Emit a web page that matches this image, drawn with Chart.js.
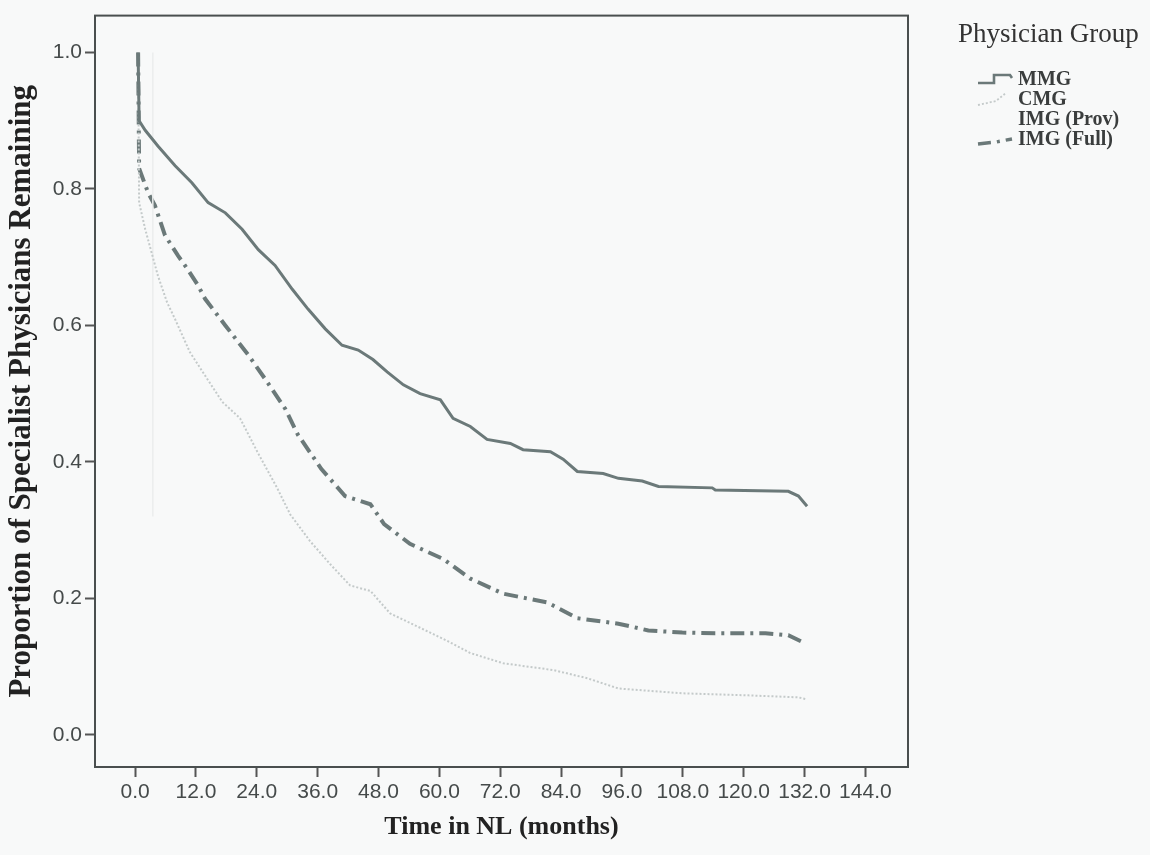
<!DOCTYPE html>
<html>
<head>
<meta charset="utf-8">
<script src="https://cdn.jsdelivr.net/npm/chart.js@4.4.1/dist/chart.umd.min.js"></script>
<style>
  html, body { margin: 0; padding: 0; background: #f8f9f9; }
  #wrap { position: relative; width: 1150px; height: 855px; }
  #legend { position: absolute; left: 958px; top: 18px; font-family: "Liberation Serif", "Times New Roman", serif; color: #333; }
  #legend .ttl { font-size: 27px; margin-bottom: 19px; }
  #legend .row { display: flex; align-items: center; height: 20px; font-size: 20px; font-weight: bold; color: #3a3d3d; }
  #legend svg { width: 40px; height: 18px; margin-left: 18px; margin-right: 2px; }
</style>
</head>
<body>
<div id="wrap">
  <canvas id="km" width="1150" height="855"></canvas>
  <div id="legend"></div>
</div>
<script>
// ---- data (months, proportion remaining) ----
const groups = ['MMG', 'CMG', 'IMG (Prov)', 'IMG (Full)'];

const mmgTime = [0.6, 0.8, 2.0, 4.5, 7.9, 11.2, 14.4, 17.8, 21.1, 24.3, 27.6, 31.0, 34.1, 37.5, 40.8, 44.0, 46.9,
  49.7, 52.9, 56.2, 60.2, 62.7, 66.1, 69.4, 74.0, 76.5, 81.9, 84.4, 87.2, 92.3, 95.3, 100.0, 103.2, 113.8, 114.4,
  128.8, 130.8, 132.5];
const mmgSurv = [1.0, 0.90, 0.886, 0.863, 0.834, 0.809, 0.780, 0.765, 0.741, 0.711, 0.688, 0.653, 0.624, 0.595, 0.571, 0.564, 0.550,
  0.532, 0.513, 0.500, 0.491, 0.464, 0.452, 0.433, 0.427, 0.418, 0.415, 0.404, 0.386, 0.383, 0.376, 0.372, 0.364, 0.362, 0.359,
  0.357, 0.350, 0.335];

const cmgTime = [0.6, 0.8, 2.0, 4.5, 6.3, 7.9, 10.8, 14.2, 17.2, 20.7, 24.1, 28.0, 30.6, 34.5, 38.5, 42.4, 46.4,
  50.3, 56.2, 61.5, 66.1, 72.6, 82.5, 89.2, 95.3, 107.9, 120.9, 130.8, 132.5];
const cmgSurv = [1.0, 0.78, 0.741, 0.673, 0.634, 0.609, 0.561, 0.522, 0.488, 0.464, 0.415, 0.362, 0.323, 0.284, 0.250, 0.219, 0.211,
  0.178, 0.157, 0.138, 0.120, 0.105, 0.095, 0.083, 0.068, 0.061, 0.058, 0.055, 0.052];

const provTime = [3.5, 3.5];
const provSurv = [1.0, 0.32];

const fullTime = [0.6, 0.8, 2.6, 3.9, 5.9, 8.5, 10.3, 12.4, 13.8, 17.8, 22.3, 25.6, 29.6, 32.1, 36.7, 41.4, 46.4,
  49.1, 54.2, 60.7, 66.1, 72.6, 81.3, 87.2, 95.3, 101.2, 107.9, 114.4, 124.3, 128.8, 132.2];
const fullSurv = [1.0, 0.83, 0.794, 0.776, 0.732, 0.702, 0.683, 0.659, 0.639, 0.600, 0.557, 0.522, 0.478, 0.440, 0.390, 0.350, 0.338,
  0.309, 0.280, 0.258, 0.229, 0.207, 0.194, 0.171, 0.163, 0.153, 0.150, 0.149, 0.149, 0.146, 0.134];

const xTicks = [0, 12, 24, 36, 48, 60, 72, 84, 96, 108, 120, 132, 144];
const yTicks = [0, 0.2, 0.4, 0.6, 0.8, 1.0];

const pts = (t, s) => t.map((v, i) => ({ x: v, y: s[i] }));

const styles = [
  { color: '#6b7979', width: 3, dash: [] },
  { color: '#c4caca', width: 2, dash: [2, 2] },
  { color: '#ebeded', width: 1.5, dash: [] },
  { color: '#6b7979', width: 4, dash: [14, 6, 3, 6] }
];
const series = [pts(mmgTime, mmgSurv), pts(cmgTime, cmgSurv), pts(provTime, provSurv), pts(fullTime, fullSurv)];

const frame = {
  id: 'frame',
  afterDatasetsDraw(chart) {
    const a = chart.chartArea, ctx = chart.ctx;
    ctx.save();
    ctx.strokeStyle = '#4a4f4f';
    ctx.lineWidth = 2;
    ctx.strokeRect(a.left, a.top, a.right - a.left, a.bottom - a.top);
    ctx.restore();
  }
};

const tickFont = { family: '"Liberation Sans", Arial, sans-serif', size: 21 };
const titleFont = { family: '"Liberation Serif", "Times New Roman", serif', weight: 'bold' };

new Chart(document.getElementById('km'), {
  type: 'line',
  data: {
    datasets: groups.map((g, i) => ({
      label: g,
      data: series[i],
      borderColor: styles[i].color,
      borderWidth: styles[i].width,
      borderDash: styles[i].dash,
      pointRadius: 0,
      fill: false,
      tension: 0
    }))
  },
  options: {
    responsive: false,
    animation: false,
    layout: { padding: { left: 0, top: 12, right: 242, bottom: 0 } },
    plugins: { legend: { display: false }, tooltip: { enabled: false } },
    scales: {
      x: {
        type: 'linear',
        min: -7.9, max: 152.4,
        afterBuildTicks: s => { s.ticks = xTicks.map(v => ({ value: v })); },
        afterFit: s => { s.height = 88; },
        ticks: { font: tickFont, color: '#454a4a', padding: 3, maxRotation: 0, autoSkip: false,
                 callback: v => Number(v).toFixed(1) },
        grid: { drawOnChartArea: false, drawTicks: true, tickLength: 10, tickWidth: 2, color: '#555' },
        border: { display: false },
        title: { display: true, text: 'Time in NL (months)', font: { ...titleFont, size: 26 }, color: '#222',
                 padding: { top: 0, bottom: 12 } }
      },
      y: {
        type: 'linear',
        min: -0.047, max: 1.054,
        afterBuildTicks: s => { s.ticks = yTicks.map(v => ({ value: v })); },
        afterFit: s => { s.width = 95; },
        ticks: { font: tickFont, color: '#454a4a', padding: 3, autoSkip: false,
                 callback: v => Number(v).toFixed(1) },
        grid: { drawOnChartArea: false, drawTicks: true, tickLength: 10, tickWidth: 2, color: '#555' },
        border: { display: false },
        title: { display: true, text: 'Proportion of Specialist Physicians Remaining', font: { ...titleFont, size: 31 },
                 color: '#222', padding: { top: 3, bottom: 0 } }
      }
    }
  },
  plugins: [frame]
});

// legend built from the same group names and styles
const samples = [
  '<polyline points="2,14 18,14 18,6 34,6 36,9" fill="none" stroke="#6b7979" stroke-width="2.6"/>',
  '<polyline points="2,16 20,12 30,4" fill="none" stroke="#c4caca" stroke-width="1.8" stroke-dasharray="2,2"/>',
  '',
  '<polyline points="2,15 20,13 36,10" fill="none" stroke="#6b7979" stroke-width="3.4" stroke-dasharray="13,6,3,6"/>'
];
document.getElementById('legend').innerHTML =
  '<div class="ttl">Physician Group</div>' +
  groups.map((g, i) => `<div class="row"><svg viewBox="0 0 40 18">${samples[i]}</svg><span>${g}</span></div>`).join('');
</script>
</body>
</html>
